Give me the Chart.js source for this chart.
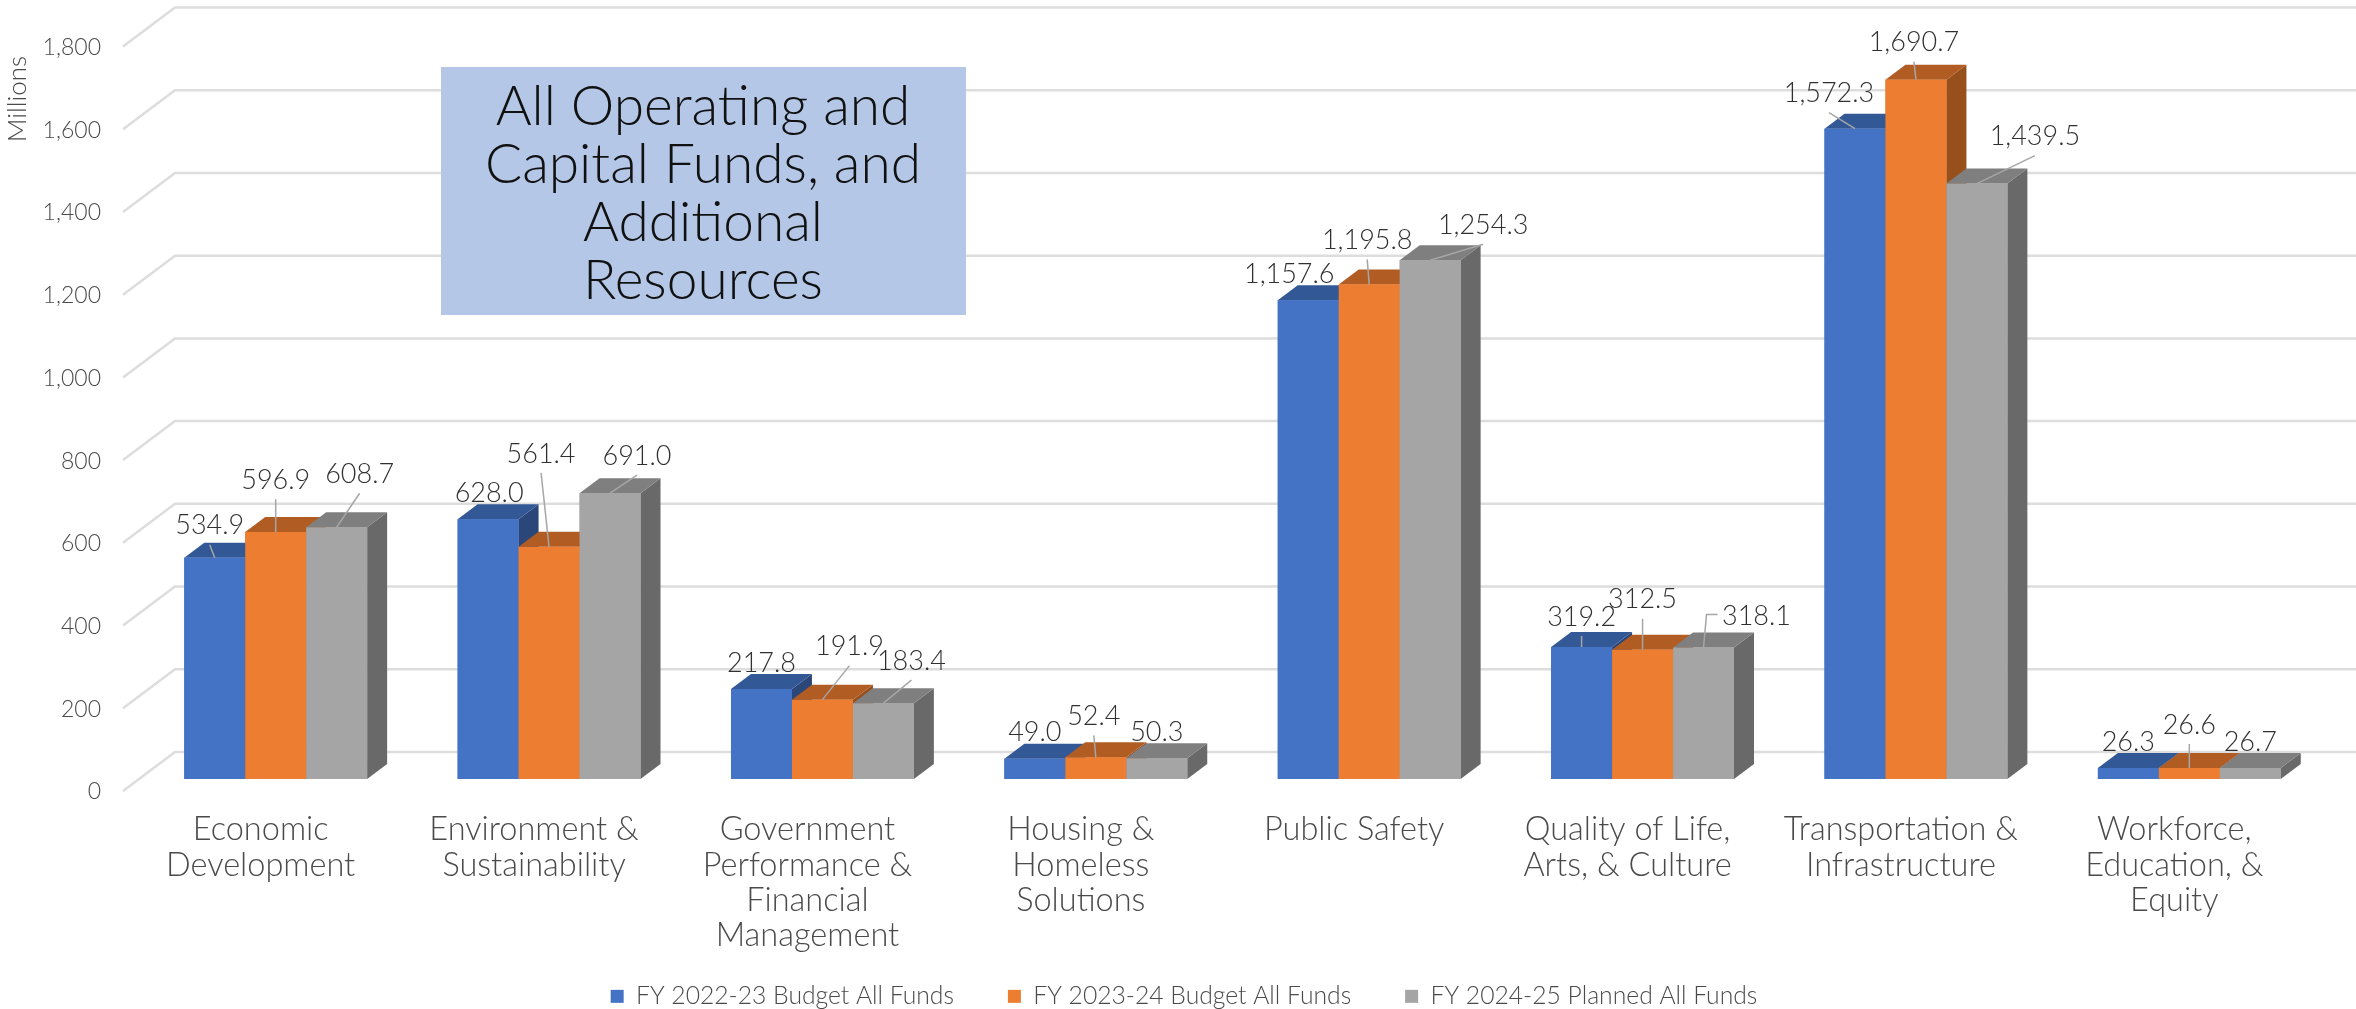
<!DOCTYPE html>
<html>
<head>
<meta charset="utf-8">
<title>All Operating and Capital Funds</title>
<script src="https://cdn.jsdelivr.net/npm/chart.js@4"></script>
<style>
  html, body { margin: 0; padding: 0; background: #fff; }
  #wrap { position: relative; width: 2356px; height: 1009px; }
</style>
</head>
<body>
<div id="wrap"><canvas id="chart"></canvas></div>
<script>
const categories = [
  ["Economic", "Development"],
  ["Environment &", "Sustainability"],
  ["Government", "Performance &", "Financial", "Management"],
  ["Housing &", "Homeless", "Solutions"],
  ["Public Safety"],
  ["Quality of Life,", "Arts, & Culture"],
  ["Transportation &", "Infrastructure"],
  ["Workforce,", "Education, &", "Equity"]
];
const seriesNames = ["FY 2022-23 Budget All Funds", "FY 2023-24 Budget All Funds", "FY 2024-25 Planned All Funds"];
const fy2223 = [534.9, 628.0, 217.8, 49.0, 1157.6, 319.2, 1572.3, 26.3];
const fy2324 = [596.9, 561.4, 191.9, 52.4, 1195.8, 312.5, 1690.7, 26.6];
const fy2425 = [608.7, 691.0, 183.4, 50.3, 1254.3, 318.1, 1439.5, 26.7];
const calloutLines = ["All Operating and", "Capital Funds, and", "Additional", "Resources"];

const frontColors = ["#4472C4", "#ED7D31", "#A5A5A5"];
const topColors = ["#335896", "#B15C22", "#7F7F7F"];
const sideColors = ["#2B4678", "#974F1C", "#696969"];

// where each data label sits relative to the top of its bar [dx, dy]
const labelShift = [
  [[-5, -32], [1, -26], [0, -26], [0, -26], [-19, -26], [0, -30], [-26, -35], [0, -26]],
  [[0, -52], [-8, -93], [27, -53], [-2, -41], [-2, -44], [0, -50], [-2, -37], [0, -43]],
  [[23, -53], [27, -37], [28, -42], [0, -26], [53, -35], [53, -31], [58, -47], [0, -26]]
];

const FONT = "Lato";
const depth = { x: 20, y: 15 };
const plot = { top: 34.5, bottom: 779 };
const fmt = v => v.toLocaleString("en-US", { minimumFractionDigits: 1, maximumFractionDigits: 1 });

const bars3d = {
  id: "bars3d",
  afterLayout(chart) {
    // pin the plot band to the picture, the auto layout leaves it short at the top
    const { x, y } = chart.scales;
    y.top = chart.chartArea.top = plot.top;
    y.bottom = chart.chartArea.bottom = plot.bottom;
    x.top = plot.bottom;
    y.configure();
    // the legend keeps its wide item spacing but sits low on the page
    chart.legend.top = 930;
    chart.legend.left = 12;
    chart.legend.right = 2356;
  },
  beforeDatasetsDraw(chart) {
    const { ctx, scales: { y } } = chart;
    ctx.save();
    ctx.strokeStyle = "#DDDDDD";
    ctx.lineWidth = 2.5;
    y.ticks.forEach(t => {
      const py = y.getPixelForValue(t.value);
      ctx.beginPath();
      ctx.moveTo(123, py + 12);
      ctx.lineTo(175, py - 27);
      ctx.lineTo(2356, py - 27);
      ctx.stroke();
    });
    ctx.restore();
  },
  afterDatasetsDraw(chart) {
    const ctx = chart.ctx;
    categories.forEach((c, g) => {
      frontColors.forEach((col, s) => {
        const bar = chart.getDatasetMeta(s).data[g];
        const left = bar.x - bar.width / 2, right = bar.x + bar.width / 2;
        ctx.fillStyle = sideColors[s];
        ctx.beginPath();
        ctx.moveTo(right, bar.y);
        ctx.lineTo(right + depth.x, bar.y - depth.y);
        ctx.lineTo(right + depth.x, bar.base - depth.y);
        ctx.lineTo(right, bar.base);
        ctx.fill();
        ctx.fillStyle = topColors[s];
        ctx.beginPath();
        ctx.moveTo(left, bar.y);
        ctx.lineTo(left + depth.x, bar.y - depth.y);
        ctx.lineTo(right + depth.x, bar.y - depth.y);
        ctx.lineTo(right, bar.y);
        ctx.fill();
        bar.draw(ctx);
      });
    });
  },
  afterDraw(chart) {
    const ctx = chart.ctx;
    // data labels and their leader lines
    ctx.save();
    ctx.textAlign = "center";
    ctx.textBaseline = "middle";
    chart.data.datasets.forEach((ds, s) => {
      const meta = chart.getDatasetMeta(s);
      ds.data.forEach((v, g) => {
        const bar = meta.data[g];
        const [dx, dy] = labelShift[s][g];
        const lx = bar.x + dx, ly = bar.y + dy;
        if (dy <= -28) {
          ctx.strokeStyle = "#A6A6A6";
          ctx.lineWidth = 1.5;
          ctx.beginPath();
          ctx.moveTo(bar.x, bar.y);
          if (s === 2 && g === 5) {
            // this one leaves the bar with an elbow towards the label
            ctx.lineTo(bar.x + 3, ly - 2);
            ctx.lineTo(bar.x + 14, ly - 2);
          } else {
            ctx.lineTo(lx, ly + 19);
          }
          ctx.stroke();
        }
        ctx.fillStyle = "#303030";
        ctx.font = `300 27px ${FONT}`;
        ctx.fillText(fmt(v), lx, ly);
      });
    });
    // y axis unit
    ctx.save();
    ctx.translate(18, 99);
    ctx.rotate(-Math.PI / 2);
    ctx.fillStyle = "#4A4A4A";
    ctx.font = `300 26px ${FONT}`;
    ctx.fillText("Millions", 0, 0);
    ctx.restore();
    // callout box
    ctx.fillStyle = "#B4C7E7";
    ctx.fillRect(441, 67, 525, 248);
    ctx.fillStyle = "#111111";
    ctx.font = `300 55px ${FONT}`;
    calloutLines.forEach((line, i) => ctx.fillText(line, 703, 107 + i * 58));
    ctx.restore();
  }
};

new Chart(document.getElementById("chart"), {
  type: "bar",
  data: {
    labels: categories,
    datasets: [
      { label: seriesNames[0], data: fy2223, backgroundColor: frontColors[0] },
      { label: seriesNames[1], data: fy2324, backgroundColor: frontColors[1] },
      { label: seriesNames[2], data: fy2425, backgroundColor: frontColors[2] }
    ]
  },
  options: {
    responsive: true,
    maintainAspectRatio: false,
    animation: false,
    layout: { autoPadding: false, padding: { top: 18, right: 30, bottom: -48 } },
    datasets: { bar: { categoryPercentage: 0.669, barPercentage: 1 } },
    plugins: {
      tooltip: { enabled: false },
      title: { display: false },
      legend: {
        position: "bottom",
        labels: {
          boxWidth: 13, boxHeight: 13, padding: 54, color: "#4A4A4A",
          font: { family: FONT, size: 24.7, weight: "300" }
        }
      }
    },
    scales: {
      x: {
        grid: { display: false, drawTicks: false },
        border: { display: false },
        afterFit(scale) { scale.height = 190; },
        ticks: {
          autoSkip: false, maxRotation: 0, padding: 33, labelOffset: -15, color: "#4A4A4A",
          font: { family: FONT, size: 32.5, weight: "300", lineHeight: 1.09 }
        }
      },
      y: {
        min: 0, max: 1800,
        grid: { display: false, drawTicks: false },
        border: { display: false },
        afterFit(scale) { scale.width = 139; },
        ticks: {
          stepSize: 200, padding: 38, labelOffset: 13, color: "#4A4A4A",
          font: { family: FONT, size: 23, weight: "300" },
          callback: v => v.toLocaleString("en-US")
        }
      }
    }
  },
  plugins: [bars3d]
});
</script>
</body>
</html>
